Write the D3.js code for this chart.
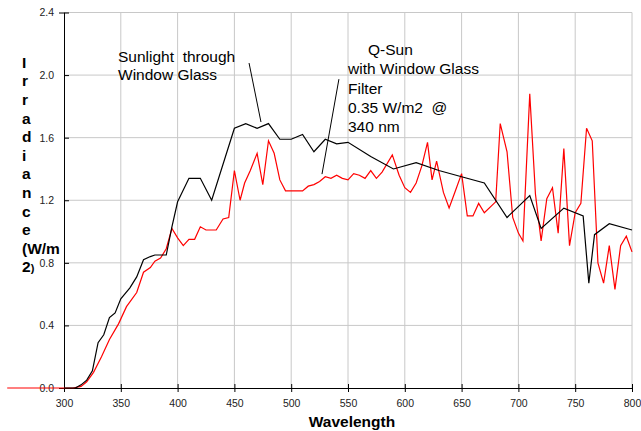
<!DOCTYPE html>
<html>
<head>
<meta charset="utf-8">
<script src="https://cdn.jsdelivr.net/npm/d3@7"></script>
<style>
  body { margin: 0; background: #fff; }
  svg text { font-family: "Liberation Sans", Arial, sans-serif; }
</style>
</head>
<body>
<svg id="chart" width="641" height="431"></svg>
<script>
// Sunlight through window glass (black)
const sunWavelengths = [300, 310, 315, 320, 325, 330, 335, 340, 345, 350, 358, 364, 370, 376, 380, 390, 395, 400,
  410, 420, 430, 450, 460, 470, 480, 490, 500, 510, 520, 530, 540, 550, 570, 590, 610, 630, 650, 670,
  690, 710, 720, 740, 757, 762, 767, 780, 800];
const sunIrradiance = [0, 0.0, 0.02, 0.05, 0.11, 0.29, 0.34, 0.45, 0.48, 0.57, 0.64, 0.71, 0.82, 0.84, 0.85, 0.85, 1.03, 1.19,
  1.34, 1.34, 1.20, 1.66, 1.69, 1.66, 1.69, 1.59, 1.59, 1.62, 1.51, 1.59, 1.56, 1.57, 1.48, 1.40, 1.44, 1.39, 1.35, 1.31,
  1.09, 1.23, 1.02, 1.15, 1.10, 0.67, 0.98, 1.05, 1.01];

// Q-Sun with window glass filter (red)
const qsunWavelengths = [250, 300, 308, 315, 320, 326, 333, 340, 348, 355, 364, 370, 376, 380, 385, 390, 395, 400,
  405, 410, 415, 420, 425, 434, 440, 445, 450, 455, 459, 464, 470, 475, 480, 485, 490, 495, 505, 510,
  515, 520, 525, 530, 535, 540, 545, 550, 555, 560, 565, 570, 575, 580, 589, 595, 600, 605, 610, 615,
  620, 624, 628, 634, 639, 644, 650, 655, 660, 665, 670, 680, 684, 690, 695, 700, 704, 710, 715, 720,
  725, 730, 735, 740, 745, 750, 755, 760, 765, 770, 775, 780, 785, 790, 795, 800];
const qsunIrradiance = [0, 0, 0, 0.01, 0.04, 0.10, 0.20, 0.31, 0.41, 0.52, 0.61, 0.74, 0.77, 0.81, 0.83, 0.89, 1.02, 0.96,
  0.91, 0.95, 0.95, 1.03, 1.01, 1.01, 1.08, 1.09, 1.39, 1.20, 1.31, 1.39, 1.50, 1.30, 1.58, 1.50, 1.33, 1.26, 1.26, 1.26,
  1.29, 1.30, 1.32, 1.35, 1.34, 1.36, 1.34, 1.33, 1.37, 1.36, 1.34, 1.39, 1.34, 1.38, 1.49, 1.36, 1.28, 1.25, 1.31, 1.42,
  1.57, 1.33, 1.45, 1.25, 1.15, 1.25, 1.37, 1.10, 1.10, 1.18, 1.12, 1.19, 1.69, 1.51, 1.09, 0.99, 0.94, 1.88, 1.24, 0.94,
  1.21, 1.28, 0.99, 1.53, 0.91, 1.12, 1.18, 1.66, 1.58, 0.80, 0.67, 0.91, 0.63, 0.91, 0.97, 0.87];

const xTicks = [300, 350, 400, 450, 500, 550, 600, 650, 700, 750, 800];
const yTicks = [0.0, 0.4, 0.8, 1.2, 1.6, 2.0, 2.4];
const yTitleLines = ["I", "r", "r", "a", "d", "i", "a", "n", "c", "e", "(W/m"];

const svg = d3.select("#chart");
const margin = { top: 12.5, right: 9, bottom: 43, left: 64 };
const width = +svg.attr("width");
const height = +svg.attr("height");

const x = d3.scaleLinear().domain([300, 800]).range([margin.left, width - margin.right]);
const y = d3.scaleLinear().domain([0, 2.4]).range([height - margin.bottom, margin.top]);

// grid
svg.append("g")
  .selectAll("line")
  .data(yTicks.filter(d => d > 0))
  .enter().append("line")
  .attr("x1", x(300)).attr("x2", x(800))
  .attr("y1", d => y(d)).attr("y2", d => y(d))
  .attr("stroke", "#c8c8c8").attr("stroke-width", 1);

svg.append("g")
  .selectAll("line")
  .data(xTicks.filter(d => d > 300))
  .enter().append("line")
  .attr("x1", d => x(d)).attr("x2", d => x(d))
  .attr("y1", y(0)).attr("y2", y(2.4))
  .attr("stroke", "#c8c8c8").attr("stroke-width", 1);

// axes
const xAxis = svg.append("g")
  .attr("transform", `translate(0,${y(0)})`)
  .call(d3.axisBottom(x).tickValues(xTicks).tickSize(4).tickPadding(8).tickFormat(d3.format("d")));
xAxis.select(".domain").attr("stroke", "#000");
xAxis.selectAll(".tick line").attr("stroke", "#000").attr("y1", -4);
xAxis.selectAll("text").attr("fill", "#222").style("font-size", "10.5px");

const yAxis = svg.append("g")
  .attr("transform", `translate(${x(300)},0)`)
  .call(d3.axisLeft(y).tickValues(yTicks).tickSize(5).tickPadding(5).tickFormat(d3.format(".1f")));
yAxis.select(".domain").attr("stroke", "#000");
yAxis.selectAll(".tick line").attr("stroke", "#000").attr("x2", 5);
yAxis.selectAll("text").attr("fill", "#222").style("font-size", "10.5px");

// titles
svg.append("text")
  .attr("x", 352).attr("y", 427)
  .attr("text-anchor", "middle")
  .style("font-size", "15.5px").style("font-weight", "bold")
  .text("Wavelength");

svg.append("g")
  .selectAll("text")
  .data(yTitleLines)
  .enter().append("text")
  .attr("x", 22)
  .attr("y", (d, i) => 67.7 + i * 18.6)
  .style("font-size", "15.5px").style("font-weight", "bold")
  .text(d => d);

const lastLine = svg.append("text")
  .attr("x", 22)
  .attr("y", 67.7 + yTitleLines.length * 18.6)
  .style("font-weight", "bold");
lastLine.append("tspan").style("font-size", "15.5px").text("2");
lastLine.append("tspan").style("font-size", "11px").text(")");

// series
const sunData = sunWavelengths.map((w, i) => [w, sunIrradiance[i]]);
const qsunData = qsunWavelengths.map((w, i) => [w, qsunIrradiance[i]]);
const line = d3.line().x(d => x(d[0])).y(d => y(d[1]));

svg.append("path")
  .datum(qsunData)
  .attr("fill", "none").attr("stroke", "#ff0000").attr("stroke-width", 1.2)
  .attr("d", line);

svg.append("path")
  .datum(sunData)
  .attr("fill", "none").attr("stroke", "#000").attr("stroke-width", 1.2)
  .attr("d", line);

// annotations
const labelSun = ["Sunlight  through", "Window Glass"];
const labelQsun = ["Q-Sun", "with Window Glass", "Filter", "0.35 W/m2  @", "340 nm"];

svg.append("text")
  .attr("x", 118).attr("y", 61.7)
  .style("font-size", "15.5px").style("white-space", "pre")
  .selectAll("tspan").data(labelSun).enter().append("tspan")
  .attr("x", 118).attr("dy", (d, i) => i === 0 ? 0 : 18.6)
  .text(d => d);

svg.append("text")
  .attr("x", 348).attr("y", 55)
  .style("font-size", "15.5px").style("white-space", "pre")
  .selectAll("tspan").data(labelQsun).enter().append("tspan")
  .attr("x", (d, i) => i === 0 ? 368 : 348).attr("dy", (d, i) => i === 0 ? 0 : 19.3)
  .text(d => d);

svg.append("line")
  .attr("x1", x(462.9)).attr("y1", y(2.077))
  .attr("x2", x(473.4)).attr("y2", y(1.70))
  .attr("stroke", "#000").attr("stroke-width", 1);

svg.append("line")
  .attr("x1", x(542)).attr("y1", y(1.974))
  .attr("x2", x(527.1)).attr("y2", y(1.367))
  .attr("stroke", "#000").attr("stroke-width", 1);
</script>
</body>
</html>
